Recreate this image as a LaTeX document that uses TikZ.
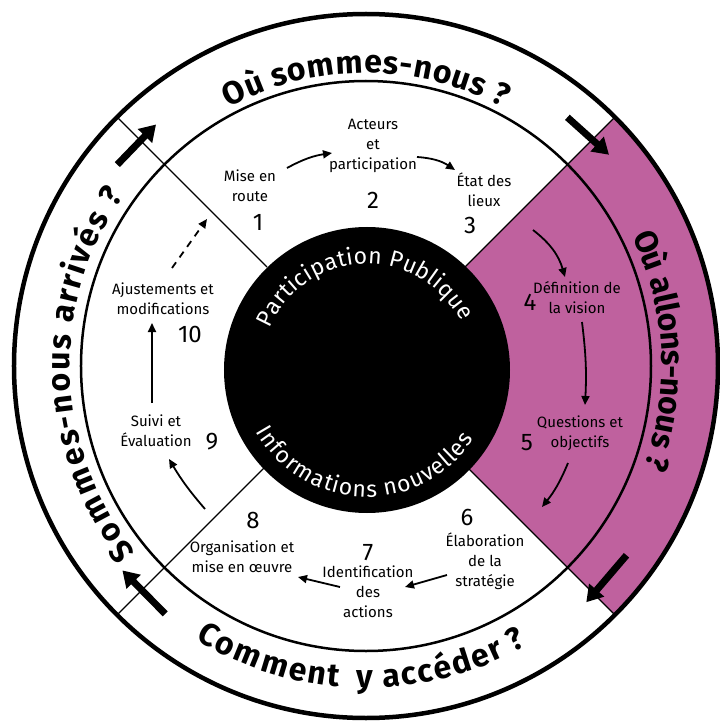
\documentclass[tikz,border=0pt]{standalone}
\usepackage{fontspec}
\setmainfont{Fira Sans}
\usetikzlibrary{decorations.text,arrows.meta}
\definecolor{sectorpink}{RGB}{191,97,158}
\newcommand{\bandfont}{\bfseries\fontsize{32}{32}\selectfont}
\newcommand{\corefont}{\fontsize{23}{23}\selectfont}
\newcommand{\stepfont}{\fontsize{15}{20}\selectfont}
\newcommand{\cycnum}{\fontsize{24}{24}\selectfont}
\begin{document}
\begin{tikzpicture}[x=1pt,y=1pt,
  steplabel/.style={align=center,font=\stepfont,inner sep=1pt},
  stepnum/.style={font=\cycnum,inner sep=0pt},
  flow/.style={line width=1.8pt,-{Triangle[length=9pt,width=8pt]}},
  bigflow/.style={line width=7pt,-{Triangle[length=16pt,width=19pt]}},
  bandtext/.style={decorate,decoration={text effects along path,text={#1},
      text effects/.cd,text along path,fit text to path,characters={font=\bandfont}}},
  coretext/.style={decorate,decoration={text effects along path,text={#1},
      text effects/.cd,text along path,fit text to path,characters={font=\corefont,text=white}}}]
\useasboundingbox (-366,-360) rectangle (354,366);

% right-hand sector
\fill[sectorpink] (0,0) -- (-45:352) arc[start angle=-45,end angle=45,radius=352] -- cycle;
% rings and dividers
\draw[line width=4.5pt] (0,0) circle[radius=352];
\draw[line width=2.5pt] (0,0) circle[radius=285];
\foreach \a in {45,135,225,315} \draw[line width=1.4pt] (\a:140) -- (\a:352);
\fill[black] (1,-4) circle[radius=143];

% outer band questions
\path[bandtext={Où sommes-nous ?}] (118:293) arc[start angle=118,end angle=62,radius=293];
\path[bandtext={Où allons-nous ?}] (26:296) arc[start angle=26,end angle=-20,radius=296];
\path[bandtext={Sommes-nous arrivés ?}] (219:296) arc[start angle=219,end angle=145,radius=296];
\path[bandtext={Comment ~y accéder ?}] (238:322) arc[start angle=238,end angle=300,radius=322];

% core texts
\begin{scope}[shift={(1,-4)}]
\path[coretext={Participation Publique}] (157:106) arc[start angle=157,end angle=27,radius=106];
\path[coretext={Informations nouvelles}] (209:127) arc[start angle=209,end angle=327,radius=127];
\end{scope}

% steps
\node[steplabel] (s1) at (-116,180) {Mise en\\route};
\node[stepnum] (n1) at (-108,144) {1};
\node[steplabel] (s2) at (7,220) {Acteurs\\et\\participation};
\node[stepnum] (n2) at (7,166) {2};
\node[steplabel] (s3) at (118,176) {État des\\lieux};
\node[stepnum] (n3) at (104,141) {3};
\node[steplabel] (s4) at (211,68) {Définition de\\la vision};
\node[stepnum] (n4) at (164,64) {4};
\node[steplabel] (s5) at (214,-67) {Questions et\\objectifs};
\node[stepnum] (n5) at (161,-77) {5};
\node[steplabel] (s6) at (119,-195) {Élaboration\\de la\\stratégie};
\node[stepnum] (n6) at (101,-151) {6};
\node[steplabel] (s7) at (2,-226) {Identification\\des\\actions};
\node[stepnum] (n7) at (2,-187) {7};
\node[steplabel] (s8) at (-124,-191) {Organisation et\\mise en œuvre};
\node[stepnum] (n8) at (-113,-154) {8};
\node[steplabel] (s9) at (-210,-65) {Suivi et\\Évaluation};
\node[stepnum] (n9) at (-154,-76) {9};
\node[steplabel] (s10) at (-203,67) {Ajustements et\\modifications};
\node[stepnum] (n10) at (-176,32) {10};

% flow arrow ends
\coordinate (f1s) at (-79,198);  \coordinate (f1e) at (-34,213);
\coordinate (f2s) at (51,209);   \coordinate (f2e) at (89,196);
\coordinate (f3s) at (167,136);  \coordinate (f3e) at (199,89);
\coordinate (f4s) at (216,44);   \coordinate (f4e) at (219,-39);
\coordinate (f5s) at (202,-97);  \coordinate (f5e) at (176,-141);
\coordinate (f6s) at (81,-209);  \coordinate (f6e) at (39,-221);
\coordinate (f7s) at (-26,-221); \coordinate (f7e) at (-68,-211);
\coordinate (f8s) at (-161,-143);\coordinate (f8e) at (-197,-93);
\coordinate (f9s) at (-214,-37); \coordinate (f9e) at (-214,43);
\coordinate (f10s) at (-194,98); \coordinate (f10e) at (-159,147);

\draw[flow] (f1s) to[bend left=10] (f1e);
\draw[flow] (f2s) to[bend left=15] (f2e);
\draw[flow] (f3s) to[bend left=18] (f3e);
\draw[flow] (f4s) to[bend left=5] (f4e);
\draw[flow] (f5s) to[bend left=8] (f5e);
\draw[flow] (f6s) to (f6e);
\draw[flow] (f7s) to (f7e);
\draw[flow] (f8s) to[bend left=5] (f8e);
\draw[flow] (f9s) to (f9e);
\draw[flow,dash pattern=on 7pt off 6pt] (f10s) to (f10e);

% outer band arrows
\coordinate (b1s) at (141:320); \coordinate (b1e) at (131:320);
\coordinate (b2s) at (51:320);  \coordinate (b2e) at (41:322);
\coordinate (b3s) at (-36:322); \coordinate (b3e) at (-47:323);
\coordinate (b4s) at (231:319); \coordinate (b4e) at (220:318);
\draw[bigflow] (b1s) -- (b1e);
\draw[bigflow] (b2s) -- (b2e);
\draw[bigflow] (b3s) -- (b3e);
\draw[bigflow] (b4s) -- (b4e);
\end{tikzpicture}
\end{document}
